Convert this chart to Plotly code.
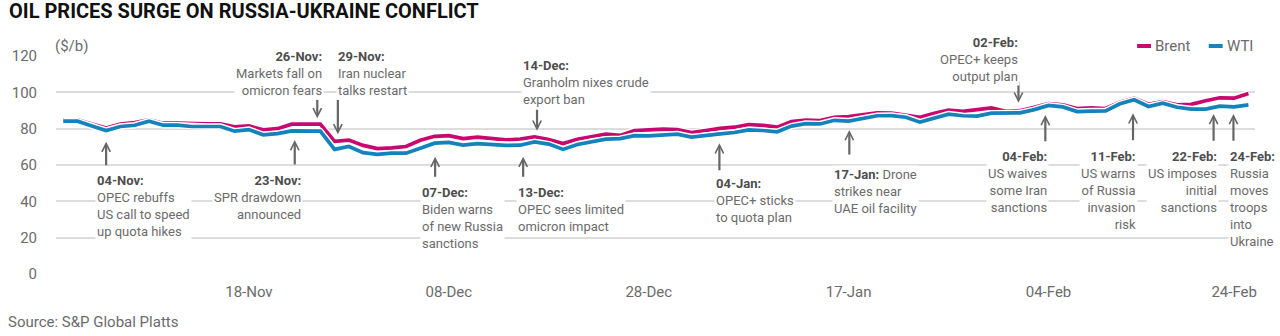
import plotly.graph_objects as go

# ---------------- data ----------------
dates = [
    "01-Nov", "02-Nov", "03-Nov", "04-Nov", "05-Nov", "08-Nov", "09-Nov", "10-Nov", "11-Nov", "12-Nov",
    "15-Nov", "16-Nov", "17-Nov", "18-Nov", "19-Nov", "22-Nov", "23-Nov", "24-Nov", "25-Nov", "26-Nov",
    "29-Nov", "30-Nov", "01-Dec", "02-Dec", "03-Dec", "06-Dec", "07-Dec", "08-Dec", "09-Dec", "10-Dec",
    "13-Dec", "14-Dec", "15-Dec", "16-Dec", "17-Dec", "20-Dec", "21-Dec", "22-Dec", "23-Dec", "24-Dec",
    "27-Dec", "28-Dec", "29-Dec", "30-Dec", "31-Dec", "03-Jan", "04-Jan", "05-Jan", "06-Jan", "07-Jan",
    "10-Jan", "11-Jan", "12-Jan", "13-Jan", "14-Jan", "17-Jan", "18-Jan", "19-Jan", "20-Jan", "21-Jan",
    "24-Jan", "25-Jan", "26-Jan", "27-Jan", "28-Jan", "31-Jan", "01-Feb", "02-Feb", "03-Feb", "04-Feb",
    "07-Feb", "08-Feb", "09-Feb", "10-Feb", "11-Feb", "14-Feb", "15-Feb", "16-Feb", "17-Feb", "18-Feb",
    "22-Feb", "23-Feb", "24-Feb", "25-Feb",
]

brent = [
    84.8, 84.8, 82.5, 80.4, 82.5, 83.3, 84.8, 83.0, 83.0, 82.6,
    82.6, 82.6, 81.0, 81.5, 79.4, 80.0, 82.5, 82.5, 82.5, 73.0,
    73.7, 70.8, 69.0, 69.4, 70.2, 73.6, 75.8, 76.2, 74.5, 75.3,
    74.5, 73.8, 74.3, 75.5, 74.0, 71.8, 74.2, 75.5, 77.0, 76.3,
    79.0, 79.3, 79.7, 79.5, 77.8, 79.0, 80.2, 80.8, 82.3, 81.8,
    80.8, 83.9, 84.7, 84.5, 86.3, 86.7, 87.8, 88.7, 88.5, 87.6,
    86.2, 88.4, 90.2, 89.5, 90.2, 91.4, 89.6, 89.9, 91.7, 93.8,
    93.1, 91.1, 91.5, 91.1, 94.5, 96.8, 93.4, 94.9, 93.1, 93.4,
    95.4, 97.0, 96.8, 99.4,
]

wti = [
    84.1, 84.1, 81.5, 79.0, 81.2, 81.9, 84.1, 81.9, 81.9, 81.2,
    81.2, 81.2, 78.6, 79.5, 76.6, 77.3, 78.8, 78.7, 78.6, 68.6,
    70.2, 66.8, 65.9, 66.5, 66.5, 69.2, 72.0, 72.4, 71.0, 71.8,
    71.3, 70.8, 70.9, 72.7, 71.5, 68.6, 71.3, 72.9, 74.2, 74.5,
    76.2, 76.0, 76.4, 77.0, 75.4, 76.0, 77.1, 77.9, 79.3, 79.0,
    78.3, 81.4, 82.8, 82.6, 84.6, 84.2, 85.5, 87.1, 87.2, 86.3,
    83.6, 85.8, 88.0, 87.1, 86.9, 88.5, 88.7, 88.7, 90.5, 92.8,
    92.0, 89.4, 89.7, 89.8, 93.7, 95.9, 92.2, 94.0, 91.8, 90.8,
    90.8, 92.4, 92.0, 93.1,
]

tick_labels = ["18-Nov", "08-Dec", "28-Dec", "17-Jan", "04-Feb", "24-Feb"]
y_ticks = [0, 20, 40, 60, 80, 100, 120]

event_dates = ["04-Nov", "23-Nov", "26-Nov", "29-Nov", "07-Dec", "13-Dec", "14-Dec",
               "04-Jan", "17-Jan", "02-Feb", "04-Feb", "11-Feb", "22-Feb", "24-Feb"]
event_texts = [
    "OPEC rebuffs<br>US call to speed<br>up quota hikes",
    "SPR drawdown<br>announced",
    "Markets fall on<br>omicron fears",
    "Iran nuclear<br>talks restart",
    "Biden warns<br>of new Russia<br>sanctions",
    "OPEC sees limited<br>omicron impact",
    "Granholm nixes crude<br>export ban",
    "OPEC+ sticks<br>to quota plan",
    "Drone<br>strikes near<br>UAE oil facility",
    "OPEC+ keeps<br>output plan",
    "US waives<br>some Iran<br>sanctions",
    "US warns<br>of Russia<br>invasion<br>risk",
    "US imposes<br>initial<br>sanctions",
    "Russia<br>moves<br>troops<br>into<br>Ukraine",
]

# ---------------- styling / geometry ----------------
BRENT_COLOR = "#c8086f"
WTI_COLOR = "#1482bb"
GRID = "#dddddd"
TXT = "#6b6b6b"
BOLD_TXT = "#4d4d4d"
ARROW = "#666666"
FONT = "Roboto"

W, H = 1280, 336
ML, MR, MT, MB = 50, 25, 56, 62
PW = W - ML - MR
PH = H - MT - MB


def yv(py):
    """pixel row -> y-axis value"""
    return (H - MB - py) * 120.0 / PH


def pxx(xp):
    return (xp - ML) / PW


def pyy(yp):
    return (H - MB - yp) / PH


# per-event layout: arrow xshift, arrow head row, arrow tail row,
# text anchor, text xshift, first text line row
event_layout = [
    (0.0, 141.7, 166.7, "left", -11.4, 179.0),
    (3.0, 140.0, 166.0, "right", 11.4, 179.0),
    (-17.3, 118.3, 98.3, "right", -11.0, 55.0),
    (-11.0, 134.3, 98.3, "left", -13.3, 55.0),
    (0.6, 156.7, 178.3, "left", -14.7, 191.7),
    (31.5, 156.7, 178.3, "left", 24.5, 191.7),
    (31.1, 130.7, 108.3, "left", 15.1, 64.3),
    (-0.7, 143.3, 171.7, "left", -5.7, 182.3),
    (0.7, 130.0, 156.0, "left", -17.1, 173.3),
    (-1.5, 102.7, 80.0, "right", 0.2, 41.7),
    (-3.2, 115.0, 142.7, "right", 0.5, 155.0),
    (13.1, 113.3, 141.7, "right", 17.8, 155.0),
    (8.0, 114.0, 142.3, "right", 13.7, 155.0),
    (-0.7, 114.0, 142.3, "left", -6.3, 155.0),
]

fig = go.Figure()

for name, vals, color in (("Brent", brent, BRENT_COLOR), ("WTI", wti, WTI_COLOR)):
    fig.add_trace(go.Scatter(x=dates, y=vals, mode="lines", line=dict(color="white", width=6.5),
                             hoverinfo="skip", showlegend=False))
    fig.add_trace(go.Scatter(x=dates, y=vals, mode="lines", name=name,
                             line=dict(color=color, width=3.7), showlegend=False))

annotations = []
for d, txt, (axs, head, tail, side, txs, first) in zip(event_dates, event_texts, event_layout):
    annotations.append(dict(
        x=d, y=yv(head), xref="x", yref="y", text="", showarrow=True,
        ax=0, ay=tail - head, axref="pixel", ayref="pixel", xshift=axs,
        arrowhead=5, arrowsize=0.75, arrowwidth=2.2, arrowcolor=ARROW,
        standoff=0, startstandoff=0,
    ))
    bold = f"<span style='color:{BOLD_TXT}'><b>{d}:</b></span>"
    if d == "17-Jan":
        full = bold + " " + txt
    else:
        full = bold + "<br>" + txt
    annotations.append(dict(
        x=d, y=pyy(first - 8.5), xref="x", yref="paper", text=full, showarrow=False,
        xanchor=side, yanchor="top", align=side, xshift=txs,
        font=dict(family=FONT, size=13, color=TXT), bgcolor="white", borderpad=1,
    ))

# title, unit, source, legend labels
annotations += [
    dict(x=pxx(1), y=pyy(11), xref="paper", yref="paper", xanchor="left", yanchor="middle",
         text="<b>OIL PRICES SURGE ON RUSSIA-UKRAINE CONFLICT</b>", showarrow=False,
         font=dict(family=FONT, size=20, color="#111111")),
    dict(x=pxx(47), y=pyy(46), xref="paper", yref="paper", xanchor="left", yanchor="middle",
         text="($/b)", showarrow=False, font=dict(family=FONT, size=15, color=TXT)),
    dict(x=pxx(0), y=pyy(322), xref="paper", yref="paper", xanchor="left", yanchor="middle",
         text="Source: S&P Global Platts", showarrow=False, font=dict(family=FONT, size=15, color=TXT)),
    dict(x=pxx(1152.5), y=pyy(46), xref="paper", yref="paper", xanchor="left", yanchor="middle",
         text="Brent", showarrow=False, font=dict(family=FONT, size=15, color=TXT)),
    dict(x=pxx(1224.5), y=pyy(46), xref="paper", yref="paper", xanchor="left", yanchor="middle",
         text="WTI", showarrow=False, font=dict(family=FONT, size=15, color=TXT)),
]

shapes = [
    dict(type="line", xref="paper", yref="paper", x0=pxx(1136.5), x1=pxx(1150.5),
         y0=pyy(46), y1=pyy(46), line=dict(color=BRENT_COLOR, width=4)),
    dict(type="line", xref="paper", yref="paper", x0=pxx(1208.5), x1=pxx(1222.5),
         y0=pyy(46), y1=pyy(46), line=dict(color=WTI_COLOR, width=4)),
]

n = len(dates)
fig.update_layout(
    width=W, height=H,
    margin=dict(l=ML, r=MR, t=MT, b=MB, pad=0),
    paper_bgcolor="white", plot_bgcolor="white",
    font=dict(family=FONT, size=15, color=TXT),
    showlegend=False,
    annotations=annotations,
    shapes=shapes,
    hovermode="x unified",
)
fig.update_xaxes(
    type="category", categoryorder="array", categoryarray=dates,
    range=[-0.51, n - 1 + 0.46],
    tickmode="array", tickvals=tick_labels, ticktext=tick_labels,
    showgrid=False, zeroline=False, showline=False,
    ticks="outside", ticklen=4, tickcolor="rgba(0,0,0,0)",
    tickfont=dict(family=FONT, size=15, color=TXT),
)
fig.update_yaxes(
    range=[0, 120], tickmode="array", tickvals=y_ticks,
    showgrid=True, gridcolor=GRID, gridwidth=1.5, zeroline=False, showline=False,
    ticks="outside", ticklen=15, tickcolor="rgba(0,0,0,0)",
    tickfont=dict(family=FONT, size=15, color=TXT),
)

fig.write_html("out.html")
